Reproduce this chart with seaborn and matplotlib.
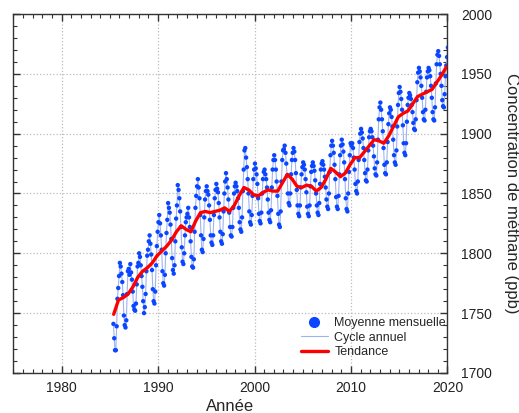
import numpy as np
import pandas as pd
import seaborn as sns
import matplotlib.pyplot as plt
from matplotlib.lines import Line2D
from matplotlib.ticker import MultipleLocator

# Moyennes mensuelles (ppb), de mai 1985 à janvier 2020
mensuel_1985_1989 = [
    1741, 1729, 1719, 1719, 1739, 1762, 1771, 1781,                      # 1985 (mai-déc)
    1792, 1789, 1783, 1776, 1765, 1748, 1740, 1738, 1744, 1766, 1785, 1787,  # 1986
    1782, 1791, 1784, 1778, 1768, 1756, 1753, 1752, 1758, 1774, 1789, 1792,  # 1987
    1800, 1797, 1790, 1781, 1772, 1760, 1750, 1755, 1766, 1785, 1798, 1803,  # 1988
    1810, 1815, 1808, 1799, 1786, 1770, 1760, 1758, 1768, 1790, 1806, 1818,  # 1989
]
mensuel_1990_1999 = [
    1826, 1832, 1825, 1815, 1803, 1785, 1775, 1773, 1782, 1800, 1817, 1828,
    1842, 1838, 1834, 1824, 1812, 1796, 1786, 1783, 1790, 1810, 1829, 1840,
    1857, 1853, 1846, 1835, 1822, 1805, 1793, 1791, 1800, 1815, 1826, 1830,
    1833, 1838, 1830, 1822, 1810, 1797, 1789, 1788, 1795, 1818, 1838, 1848,
    1856, 1862, 1855, 1846, 1832, 1815, 1803, 1801, 1812, 1830, 1845, 1852,
    1856, 1852, 1849, 1840, 1828, 1815, 1809, 1807, 1815, 1832, 1846, 1853,
    1858, 1854, 1851, 1842, 1830, 1818, 1810, 1808, 1816, 1835, 1850, 1860,
    1867, 1862, 1855, 1845, 1834, 1822, 1815, 1814, 1822, 1838, 1850, 1856,
    1859, 1856, 1852, 1846, 1838, 1826, 1820, 1818, 1830, 1852, 1870, 1886,
    1888, 1880, 1872, 1862, 1850, 1835, 1826, 1824, 1832, 1848, 1862, 1870,
]
mensuel_2000_2009 = [
    1875, 1871, 1866, 1858, 1846, 1833, 1827, 1825, 1834, 1850, 1862, 1868,
    1870, 1866, 1862, 1855, 1845, 1834, 1828, 1826, 1836, 1855, 1870, 1878,
    1882, 1878, 1870, 1860, 1848, 1833, 1824, 1822, 1835, 1860, 1878, 1886,
    1887, 1890, 1884, 1875, 1865, 1850, 1842, 1840, 1850, 1866, 1878, 1884,
    1888, 1885, 1878, 1867, 1853, 1840, 1833, 1831, 1840, 1855, 1866, 1872,
    1876, 1874, 1870, 1862, 1851, 1839, 1833, 1831, 1840, 1856, 1868, 1873,
    1876, 1873, 1869, 1861, 1850, 1840, 1834, 1832, 1842, 1858, 1870, 1875,
    1877, 1874, 1870, 1864, 1855, 1845, 1839, 1837, 1850, 1868, 1882, 1890,
    1894, 1890, 1884, 1874, 1862, 1847, 1839, 1837, 1848, 1866, 1882, 1890,
    1895, 1891, 1885, 1876, 1862, 1846, 1837, 1835, 1850, 1868, 1882, 1892,
]
mensuel_2010_2020 = [
    1890, 1892, 1888, 1880, 1870, 1858, 1852, 1850, 1860, 1878, 1893, 1900,
    1904, 1901, 1896, 1888, 1878, 1867, 1861, 1860, 1870, 1886, 1897, 1902,
    1904, 1902, 1897, 1890, 1881, 1871, 1866, 1865, 1876, 1895, 1912, 1922,
    1926, 1920, 1912, 1902, 1888, 1874, 1867, 1866, 1876, 1893, 1908, 1917,
    1922, 1920, 1914, 1906, 1895, 1882, 1876, 1874, 1886, 1906, 1924, 1934,
    1939, 1935, 1929, 1920, 1907, 1892, 1884, 1882, 1892, 1910, 1924, 1930,
    1934, 1932, 1929, 1924, 1918, 1909, 1904, 1903, 1912, 1928, 1943, 1951,
    1955, 1952, 1947, 1940, 1930, 1918, 1912, 1911, 1920, 1935, 1947, 1952,
    1955, 1953, 1948, 1940, 1930, 1918, 1912, 1911, 1922, 1942, 1958, 1966,
    1969, 1965, 1958, 1950, 1940, 1928, 1923, 1922, 1933, 1948, 1957, 1964,
    1972,
]

# Tendance (ppb), un point par semestre de 1985.4 à 2019.9
tendance = [
    1749, 1761, 1763, 1766, 1772, 1780, 1785, 1788, 1792, 1798,
    1802, 1806, 1811, 1818, 1823, 1820, 1818, 1827, 1834, 1835,
    1834, 1835, 1836, 1838, 1835, 1840, 1848, 1855, 1853, 1849,
    1848, 1851, 1853, 1852, 1852, 1859, 1866, 1862, 1856, 1855,
    1857, 1856, 1852, 1855, 1862, 1871, 1868, 1864, 1867, 1874,
    1880, 1880, 1885, 1890, 1895, 1894, 1892, 1898, 1906, 1914,
    1917, 1919, 1925, 1931, 1933, 1935, 1937, 1943, 1949, 1956,
]

valeurs = mensuel_1985_1989 + mensuel_1990_1999 + mensuel_2000_2009 + mensuel_2010_2020
dates = pd.date_range("1985-05-01", periods=len(valeurs), freq="MS")
df = pd.DataFrame({"annee": dates.year + (dates.month - 0.5) / 12, "ch4": valeurs})
df_tend = pd.DataFrame({"annee": np.arange(len(tendance)) * 0.5 + 1985.4, "ch4": tendance})

sns.set_style("ticks")
plt.rcParams["font.family"] = ["Liberation Sans", "DejaVu Sans"]

bleu = "#0a46ff"
bleu_clair = "#9db4f2"
rouge = "#ff0000"

fig = plt.figure(figsize=(5.19, 4.13), dpi=100)
ax = fig.add_axes([0.0257, 0.097, 0.8365, 0.869])

sns.lineplot(data=df, x="annee", y="ch4", color=bleu_clair, linewidth=0.8,
             estimator=None, ax=ax, zorder=2)
sns.scatterplot(data=df, x="annee", y="ch4", color=bleu, s=10, edgecolor="none",
                ax=ax, zorder=3)
sns.lineplot(data=df_tend, x="annee", y="ch4", color=rouge, linewidth=2.4,
             estimator=None, ax=ax, zorder=4)

ax.set_xlim(1975, 2020)
ax.set_ylim(1700, 2000)
ax.xaxis.set_major_locator(MultipleLocator(10))
ax.xaxis.set_minor_locator(MultipleLocator(1))
ax.yaxis.set_major_locator(MultipleLocator(50))
ax.yaxis.set_minor_locator(MultipleLocator(10))
ax.yaxis.tick_right()
ax.yaxis.set_label_position("right")
ax.tick_params(which="both", direction="in", top=True, bottom=True, left=True, right=True,
               labelleft=False, labelright=True, labelsize=10, colors="#333333",
               labelcolor="#222222")
ax.tick_params(axis="y", pad=10)
ax.tick_params(axis="x", pad=6)
ax.tick_params(which="major", length=5, width=1)
ax.tick_params(which="minor", length=3, width=0.8)
ax.grid(True, which="major", linestyle=":", color="#bbbbbb", linewidth=0.9)
for sp in ax.spines.values():
    sp.set_color("#333333")
    sp.set_linewidth(1.0)

ax.set_xlabel("Année", fontsize=12, labelpad=3)
ax.set_ylabel("Concentration de méthane (ppb)", fontsize=12, rotation=270, labelpad=19)

poignees = [
    Line2D([], [], linestyle="none", marker="o", color=bleu, markersize=7),
    Line2D([], [], color=bleu_clair, linewidth=0.8),
    Line2D([], [], color=rouge, linewidth=2.4),
]
ax.legend(poignees, ["Moyenne mensuelle", "Cycle annuel", "Tendance"],
          loc="lower right", frameon=False, fontsize=9, handlelength=2.2,
          handletextpad=0.5, labelspacing=0.2, borderaxespad=0.2,
          bbox_to_anchor=(1.014, 0.02))

fig.savefig("out.png", dpi=100)
